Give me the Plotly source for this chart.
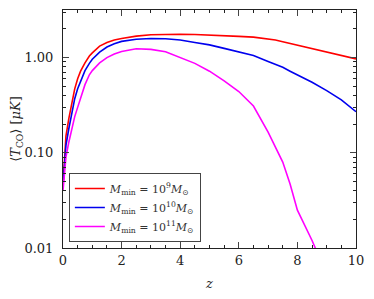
import plotly.graph_objects as go

z = [0, 0.05, 0.1, 0.2, 0.3, 0.4, 0.5, 0.6, 0.75, 0.9, 1.0, 1.25, 1.5, 1.75, 2.0, 2.5,
     3.0, 3.5, 4.0, 4.5, 5.0, 5.5, 6.0, 6.5, 7.0, 7.25, 7.5, 7.75, 8.0, 8.5, 9.0, 9.5, 10.0]

t_m9 = [0.045, 0.1, 0.15, 0.23, 0.33, 0.47, 0.6, 0.72, 0.88, 1.04, 1.12, 1.32, 1.44, 1.53, 1.59, 1.68,
        1.74, 1.76, 1.76, 1.75, 1.73, 1.70, 1.67, 1.64, 1.58, 1.53, 1.47, 1.41, 1.36, 1.25, 1.15, 1.06, 0.97]

t_m10 = [0.045, 0.08, 0.12, 0.18, 0.27, 0.37, 0.47, 0.57, 0.73, 0.87, 0.96, 1.14, 1.29, 1.40, 1.48, 1.56,
         1.59, 1.58, 1.53, 1.44, 1.36, 1.25, 1.14, 1.05, 0.91, 0.85, 0.79, 0.72, 0.66, 0.55, 0.45, 0.36, 0.27]

t_m11 = [0.04, 0.06, 0.09, 0.13, 0.18, 0.24, 0.30, 0.38, 0.52, 0.66, 0.73, 0.88, 1.0, 1.09, 1.16, 1.24,
         1.22, 1.15, 1.0, 0.87, 0.72, 0.57, 0.44, 0.31, 0.165, 0.115, 0.08, 0.047, 0.025, 0.012, 0.0055, 0.0025, 0.001]

labels = ["<i>M</i><sub>min</sub> = 10<sup>9</sup><i>M</i><sub>⊙</sub>",
          "<i>M</i><sub>min</sub> = 10<sup>10</sup><i>M</i><sub>⊙</sub>",
          "<i>M</i><sub>min</sub> = 10<sup>11</sup><i>M</i><sub>⊙</sub>"]
colors = ["#ff0000", "#0000ee", "#ff00ff"]

y_ticks = [0.01, 0.1, 1.0]
y_ticktext = ["0.01", "0.10", "1.00"]
x_ticks = [0, 2, 4, 6, 8, 10]

fig = go.Figure()
for vals, lab, col in zip([t_m9, t_m10, t_m11], labels, colors):
    fig.add_trace(go.Scatter(x=z, y=vals, mode="lines", name=lab,
                             line=dict(color=col, width=1.6)))

SERIF = "DejaVu Serif"
font = dict(family=SERIF, size=13, color="#222")
fig.update_layout(
    width=366, height=291,
    margin=dict(l=55, r=18, t=2, b=51),
    paper_bgcolor="white", plot_bgcolor="white",
    font=font,
    showlegend=True,
    legend=dict(x=0.02, y=0.025, xanchor="left", yanchor="bottom",
                bgcolor="white", bordercolor="#444", borderwidth=1,
                font=dict(family=SERIF, size=11, color="#333"),
                itemwidth=30, tracegroupgap=0),
    xaxis=dict(range=[0, 10], tickvals=x_ticks, ticks="inside", ticklen=6,
               showline=True, linecolor="#222", linewidth=1, mirror="allticks",
               showgrid=False, zeroline=False, automargin=False,
               tickfont=dict(family=SERIF, size=13, color="#222"),
               minor=dict(ticks="inside", ticklen=3, dtick=0.5, tickcolor="#222", showgrid=False),
               title=dict(text="<i>z</i>", standoff=12, font=dict(family=SERIF, size=13))),
    yaxis=dict(type="log", range=[-2, 0.5], tickvals=y_ticks, ticktext=y_ticktext,
               ticks="inside", ticklen=6,
               showline=True, linecolor="#222", linewidth=1, mirror="allticks",
               showgrid=False, zeroline=False, ticklabelstandoff=6, automargin=False,
               tickfont=dict(family=SERIF, size=13, color="#222"),
               minor=dict(ticks="inside", ticklen=3, dtick="D1", tickcolor="#222", showgrid=False),
               title=dict(text="⟨<i>T</i><sub>CO</sub>⟩ [<i>μK</i>]", standoff=4,
                          font=dict(family=SERIF, size=13))),
)

fig.write_html("out.html")
